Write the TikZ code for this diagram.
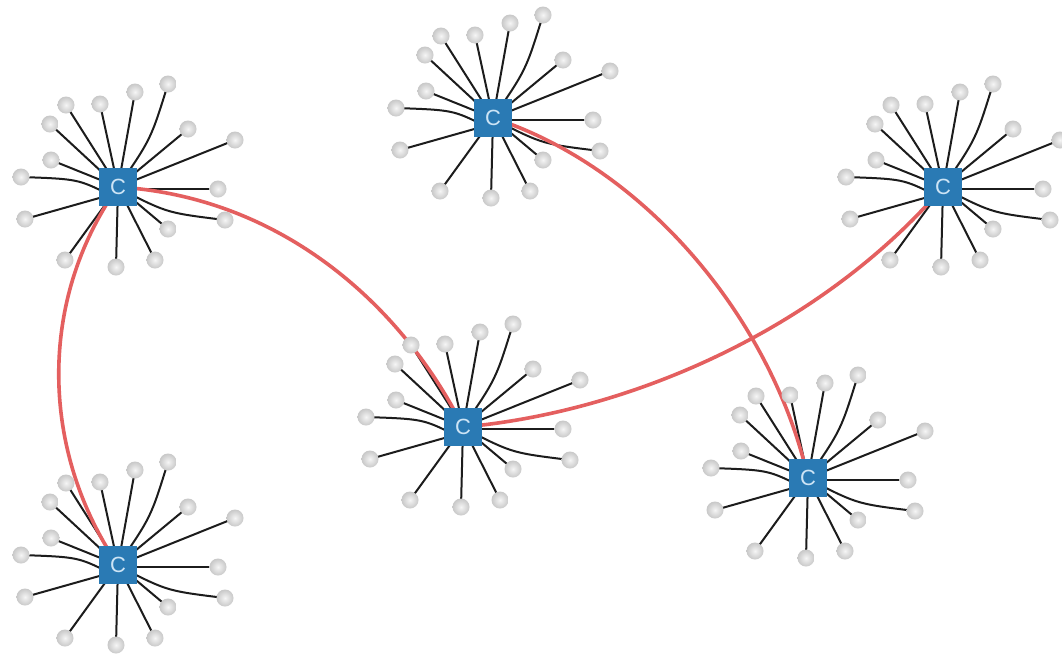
\documentclass[tikz,border=0pt]{standalone}
\usepackage{fontspec}
\setsansfont{Liberation Sans}
\usetikzlibrary{calc}
\pgfdeclarelayer{bg}
\pgfsetlayers{bg,main}
\definecolor{hubblue}{RGB}{42,122,180}
\definecolor{hubtext}{RGB}{205,228,245}
\definecolor{linkred}{RGB}{228,95,95}
\definecolor{spoke}{RGB}{28,28,28}
\definecolor{leafin}{RGB}{245,245,245}
\definecolor{leafout}{RGB}{200,200,200}
\begin{document}
\begin{tikzpicture}[x=1pt,y=-1pt,
  hub/.style={rectangle, fill=hubblue, minimum size=38pt, inner sep=0pt, text=hubtext, font=\sffamily\fontsize{22}{22}\selectfont},
  leaf/.style={circle, minimum size=17pt, inner sep=0pt, shading=radial, inner color=leafin, outer color=leafout, draw=none},
  spokeline/.style={draw=spoke, line width=2pt},
  link/.style={draw=linkred, line width=3.6pt}]
\begin{pgfonlayer}{bg}
  \fill[white] (0,0) rectangle (1062,654);
\end{pgfonlayer}
\useasboundingbox (0,0) rectangle (1062,654);
\foreach \n/\x/\y in {1/118/187, 2/493/118, 3/463/427, 4/808/478, 5/943/187, 6/118/565}{
  \node[hub] (h\n) at (\x,\y) {C};
  \foreach \k/\dx/\dy/\cx/\cy/\ex/\ey in {
    1/-52/-82/-26/-41/0/0, 2/-18/-83/-9/-41/0/0, 3/17/-95/8/-47/0/0, 4/50/-103/33/-48/0/0,
    5/-68/-63/-34/-31/0/0, 6/70/-58/35/-29/0/0, 7/117/-47/58/-23/0/0, 8/-67/-27/-33/-13/0/0,
    9/-97/-10/-40/-8/-8/8, 10/100/2/50/2/0/2, 11/-93/32/-50/20/-8/8, 12/107/33/50/26/8/5,
    13/50/42/25/21/0/0, 14/-53/73/-26/36/0/0, 15/-2/80/-1/40/0/0, 16/37/73/18/36/0/0}{
    \node[leaf] (l\n-\k) at ($(h\n)+(\dx,\dy)$) {};
    \begin{pgfonlayer}{bg}
      \draw[spokeline] (l\n-\k.center) .. controls ($(h\n)+(\cx,\cy)$) .. ($(h\n)+(\ex,\ey)$);
    \end{pgfonlayer}
  }
}
\begin{pgfonlayer}{bg}
  \draw[link] (h1.center) .. controls +(-80,113) and +(-78,-115) .. (h6.center);
  \draw[link] (h1.center) .. controls +(165,10) and +(-60,-120) .. (h3.center);
  \draw[link] (h2.center) .. controls +(155,50) and +(-35,-155) .. (h4.center);
  \draw[link] (h3.center) .. controls +(170,-15) and +(-120,140) .. (h5.center);
\end{pgfonlayer}
\end{tikzpicture}
\end{document}
